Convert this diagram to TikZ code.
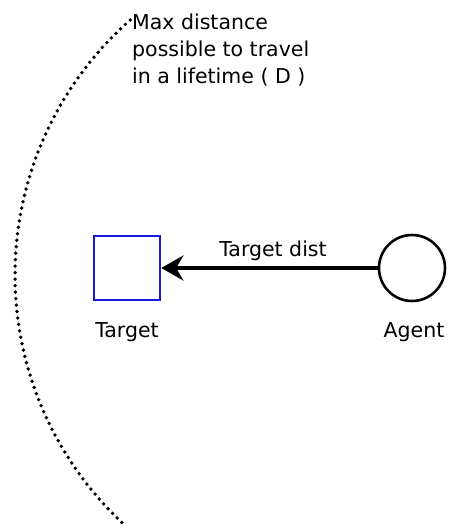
\documentclass[tikz,border=0pt]{standalone}
\usepackage{fontspec}
\setmainfont{DejaVu Sans}
\usepackage{tikz}
\usetikzlibrary{arrows.meta, positioning}
\definecolor{targetblue}{RGB}{25,25,225}

\begin{document}
\begin{tikzpicture}[
    x=1pt, y=-1pt,
    txt/.style={font=\fontsize{20.5}{27}\selectfont, inner sep=0pt},
    targetbox/.style={draw=targetblue, line width=2.6pt, rectangle,
                      minimum width=66pt, minimum height=64pt, inner sep=0pt},
    agentnode/.style={draw, line width=2.6pt, circle, minimum size=66pt,
                      inner sep=0pt},
    arr/.style={-{Stealth[length=22pt, width=25pt, inset=7pt]}, line width=3.6pt},
    reach/.style={line width=3.8pt, line cap=round, dash pattern=on 0pt off 6.5pt},
  ]
    \useasboundingbox (0,0) rectangle (452,531);

    % Target and agent
    \node[targetbox] (target) at (127,268) {};
    \node[agentnode] (agent) at (412,268) {};

    % Labels under the shapes
    \node[txt, anchor=base] (targetlbl) at (127,337) {Target};
    \node[txt, anchor=base] (agentlbl) at (414,337) {Agent};

    % Distance from agent to target
    \draw[arr] (agent.west) -- (target.east);
    \node[txt, anchor=base] (distlbl) at (273,256) {Target dist};

    % Reach of the agent (D)
    \coordinate (ctr) at (355,275);
    \draw[reach] (ctr) ++(-131.4:340) arc[start angle=-131.4, end angle=-227.5, radius=340];
    \node[txt, anchor=north west, align=left] (note) at (132,14)
      {Max distance\\possible to travel\\in a lifetime ( D )};
\end{tikzpicture}
\end{document}
